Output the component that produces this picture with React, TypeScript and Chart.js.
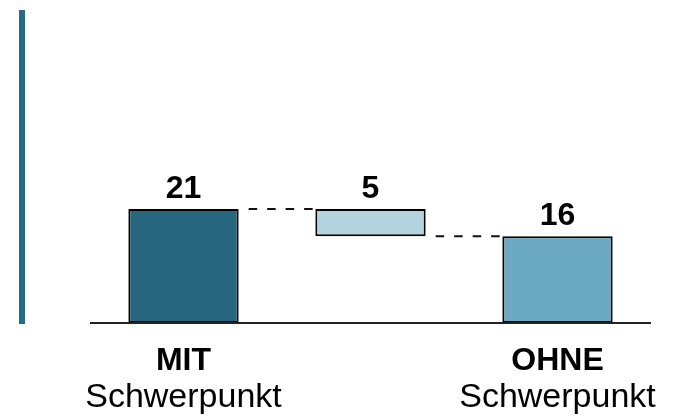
import React, { useEffect, useRef } from "react";
import { Chart, registerables } from "chart.js";

Chart.register(...registerables);

const categoryTitles = ["MIT", "", "OHNE"];
const categorySubtitles = ["Schwerpunkt", "", "Schwerpunkt"];
const barStarts = [0, 16, 0];
const barEnds = [21, 21, 16];
const valueLabels = ["21", "5", "16"];
const barColors = ["#26667f", "#b3d3de", "#6aa9bf"];

const FONT = "'Liberation Sans', Arial, sans-serif";

const waterfallPlugin = {
  id: "waterfallDecor",
  afterDatasetsDraw(chart: any) {
    const ctx = chart.ctx;
    const area = chart.chartArea;
    const yScale = chart.scales.y;
    const xScale = chart.scales.x;
    const meta = chart.getDatasetMeta(0);
    const y0 = yScale.getPixelForValue(0);

    ctx.save();
    // baseline
    ctx.strokeStyle = "#222222";
    ctx.lineWidth = 2;
    ctx.beginPath();
    ctx.moveTo(area.left, y0);
    ctx.lineTo(area.right, y0);
    ctx.stroke();

    // connectors
    ctx.setLineDash([8.5, 10]);
    ctx.lineDashOffset = 8.5;
    ctx.lineWidth = 2;
    ctx.strokeStyle = "#111111";
    for (let i = 0; i < meta.data.length - 1; i++) {
      const a = meta.data[i];
      const b = meta.data[i + 1];
      const level = i === 0 ? barEnds[i] : barStarts[i];
      const y = yScale.getPixelForValue(level);
      ctx.beginPath();
      ctx.moveTo(a.x + a.width / 2, y);
      ctx.lineTo(b.x - b.width / 2, y);
      ctx.stroke();
    }
    ctx.setLineDash([]);

    // value labels
    ctx.fillStyle = "#000000";
    ctx.textAlign = "center";
    ctx.textBaseline = "alphabetic";
    ctx.font = `bold 32px ${FONT}`;
    meta.data.forEach((bar: any, i: number) => {
      const top = yScale.getPixelForValue(Math.max(barStarts[i], barEnds[i]));
      ctx.fillText(valueLabels[i], bar.x, top - 11);
    });

    // category labels
    categoryTitles.forEach((t, i) => {
      const x = xScale.getPixelForValue(i);
      ctx.font = `bold 32px ${FONT}`;
      ctx.fillText(t, x, y0 + 47);
      ctx.font = `34px ${FONT}`;
      ctx.fillText(categorySubtitles[i], x, y0 + 84);
    });
    ctx.restore();
  },
};

export default function App() {
  const canvasRef = useRef<HTMLCanvasElement | null>(null);

  useEffect(() => {
    if (!canvasRef.current) return;
    const chart = new Chart(canvasRef.current, {
      type: "bar",
      data: {
        labels: categoryTitles.map((t, i) => `${t} ${categorySubtitles[i]}`.trim()),
        datasets: [
          {
            data: barStarts.map((s, i) => [s, barEnds[i]]) as any,
            backgroundColor: barColors,
            borderColor: "#000000",
            borderWidth: 2,
            borderSkipped: false,
            categoryPercentage: 1,
            barPercentage: 0.59,
          },
        ],
      },
      options: {
        animation: false,
        responsive: false,
        maintainAspectRatio: false,
        layout: { padding: { left: 90, right: 22, top: 10, bottom: 94 } },
        plugins: { legend: { display: false }, tooltip: { enabled: false } },
        scales: {
          x: { display: false, offset: true },
          y: { display: false, min: 0, max: 57.7 },
        },
      },
      plugins: [waterfallPlugin],
    });
    return () => chart.destroy();
  }, []);

  return (
    <div style={{ position: "fixed", left: 0, top: 0, width: 673, height: 417, background: "#ffffff" }}>
      <canvas ref={canvasRef} width={673} height={417} style={{ position: "absolute", left: 0, top: 0 }} />
      <div style={{ position: "absolute", left: 19, top: 10, width: 6, height: 314, background: "#266a86" }} />
    </div>
  );
}
